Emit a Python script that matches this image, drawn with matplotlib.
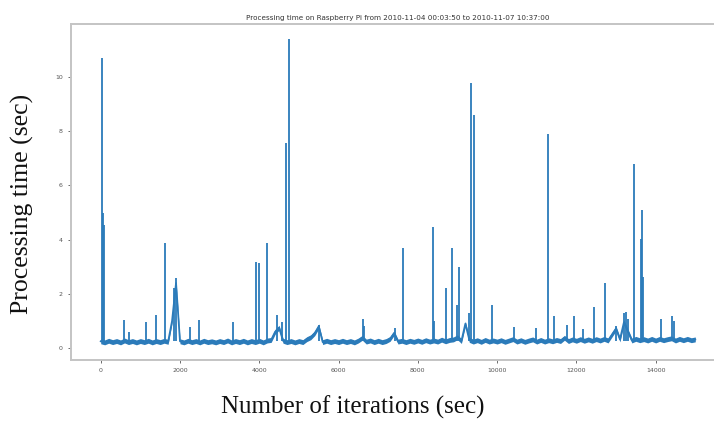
#!/usr/bin/env python3
"""
Processing time per iteration on a Raspberry Pi, redrawn as a line chart.
"""

import numpy as np
import matplotlib
matplotlib.use("Agg")
import matplotlib.pyplot as plt

TITLE = "Processing time on Raspberry Pi from 2010-11-04 00:03:50 to 2010-11-07 10:37:00"
X_LABEL = "Number of iterations (sec)"
Y_LABEL = "Processing time (sec)"

# baseline processing time, read every 100 iterations (0 .. 15000)
base_step = 100
base_time = [
    0.25, 0.21, 0.27, 0.22, 0.26, 0.21, 0.28, 0.22, 0.26, 0.21,
    0.26, 0.22, 0.27, 0.21, 0.26, 0.22, 0.27, 0.23, 1.00, 2.40,
    0.25, 0.21, 0.27, 0.22, 0.26, 0.21, 0.27, 0.22, 0.25, 0.21,
    0.26, 0.22, 0.28, 0.21, 0.26, 0.22, 0.27, 0.21, 0.26, 0.22,
    0.27, 0.21, 0.28, 0.30, 0.60, 0.75, 0.27, 0.22, 0.26, 0.21,
    0.26, 0.22, 0.33, 0.40, 0.55, 0.80, 0.22, 0.27, 0.22, 0.26,
    0.22, 0.27, 0.22, 0.26, 0.21, 0.28, 0.38, 0.24, 0.28, 0.22,
    0.27, 0.22, 0.26, 0.34, 0.55, 0.24, 0.27, 0.22, 0.27, 0.23,
    0.28, 0.23, 0.29, 0.24, 0.28, 0.24, 0.31, 0.25, 0.30, 0.32,
    0.40, 0.26, 0.90, 0.30, 0.24, 0.29, 0.23, 0.30, 0.24, 0.28,
    0.24, 0.29, 0.23, 0.28, 0.33, 0.24, 0.29, 0.23, 0.28, 0.32,
    0.24, 0.30, 0.24, 0.29, 0.25, 0.30, 0.26, 0.38, 0.26, 0.32,
    0.27, 0.33, 0.27, 0.32, 0.27, 0.33, 0.28, 0.34, 0.28, 0.50,
    0.72, 0.32, 0.95, 0.62, 0.28, 0.34, 0.29, 0.33, 0.28, 0.34,
    0.28, 0.34, 0.29, 0.33, 0.36, 0.28, 0.34, 0.29, 0.34, 0.29,
    0.32,
]

# narrow spikes: iteration and peak processing time
spike_iter = [
    20, 60, 85, 588, 714, 1142, 1386, 1613, 1848, 1906,
    2243, 2478, 3335, 3906, 3990, 4183, 4435, 4561, 4679, 4738,
    5501, 6610, 6650, 7434, 7636, 8392, 8420, 8702, 8870, 8990,
    9031, 9282, 9341, 9408, 9870, 10416, 10987, 11281, 11441, 11776,
    11928, 12180, 12457, 12734, 12996, 13205, 13248, 13313, 13457, 13633,
    13650, 13690, 14137, 14406, 14473,
]
spike_time = [
    10.7, 5.0, 4.55, 1.03, 0.60, 0.97, 1.22, 3.86, 2.20, 2.57,
    0.79, 1.03, 0.97, 3.19, 3.15, 3.89, 1.22, 0.95, 7.55, 11.39,
    0.85, 1.09, 0.83, 0.75, 3.68, 4.48, 1.00, 2.20, 3.68, 1.59,
    2.98, 1.28, 9.77, 8.60, 1.59, 0.79, 0.75, 7.89, 1.19, 0.85,
    1.19, 0.70, 1.52, 2.39, 0.83, 1.28, 1.34, 1.09, 6.78, 4.02,
    5.09, 2.63, 1.09, 1.19, 1.00,
]
spike_floor = 0.25

X_TICKS = [0, 2000, 4000, 6000, 8000, 10000, 12000, 14000]
Y_TICKS = [0, 2, 4, 6, 8, 10]

LINE_COLOR = "#2b7bba"
NOISE_BAND = 0.09  # half-height of the dense noise band, in data units


def main():
    fig = plt.figure(figsize=(7.14, 4.22), dpi=100)
    fig.patch.set_facecolor("white")

    # axes runs off the right edge, as in the cropped original
    ax = fig.add_axes([71 / 714, 1 - 360 / 422, 654 / 714, 336 / 422])

    base_iter = np.arange(len(base_time)) * base_step
    base = np.array(base_time)
    ax.fill_between(base_iter, base - NOISE_BAND, base + NOISE_BAND,
                    color=LINE_COLOR, linewidth=0)
    ax.plot(base_iter, base, color=LINE_COLOR, linewidth=1.3)
    ax.vlines(spike_iter, spike_floor, spike_time, color=LINE_COLOR,
              linewidth=1.3)

    ax.set_xlim(-750, 15750)
    ax.set_ylim(-0.44, 11.96)
    ax.set_xticks(X_TICKS)
    ax.set_yticks(Y_TICKS)
    ax.tick_params(labelsize=4.5, colors="#555555", length=2.5, width=0.6)
    for spine in ax.spines.values():
        spine.set_color("#c4c4c4")
        spine.set_linewidth(1.4)

    ax.set_title(TITLE, fontsize=5.2, color="#333333", pad=3)

    fig.text(22 / 714, 1 - 204 / 422, Y_LABEL, rotation=90,
             ha="center", va="center", fontsize=18.5,
             family="Liberation Serif", color="#111111")
    fig.text(353 / 714, 1 - 407 / 422, X_LABEL,
             ha="center", va="center", fontsize=18,
             family="Liberation Serif", color="#111111")

    fig.savefig("out.png", dpi=100, facecolor="white")
    plt.close(fig)


if __name__ == "__main__":
    main()
